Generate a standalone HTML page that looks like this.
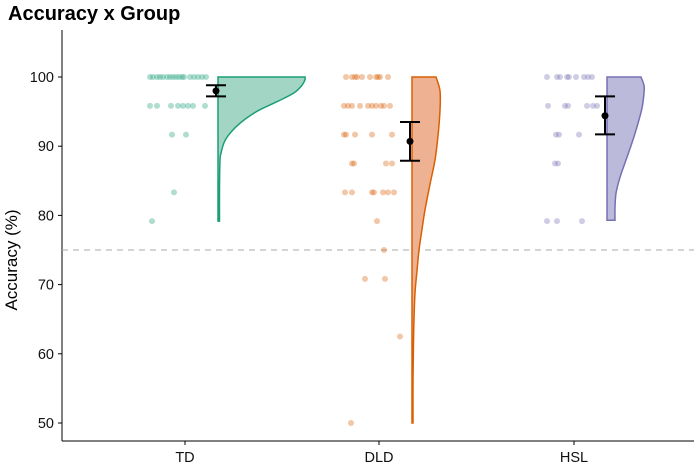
<!DOCTYPE html>
<html><head><meta charset="utf-8"><style>
body{margin:0;background:#fff;font-family:"Liberation Sans",Arial,sans-serif}
svg{display:block}
</style></head><body>
<svg id="chart" width="696" height="464">
<text x="8" y="20" font-size="20" font-weight="bold" fill="#000">Accuracy x Group</text>
<text transform="translate(17,260) rotate(-90)" text-anchor="middle" font-size="17" fill="#000">Accuracy (%)</text>
<g id="plot"></g>
</svg>
<script>
const groups=["TD","DLD","HSL"];
const colors=["#1b9e77","#d95f02","#7570b3"];
const fills=["#a3d5c4","#eeb293","#bcbadb"];
const yTicks=[50,60,70,80,90,100];
const means=[98.0,90.7,94.4];
const ciLow=[97.2,87.9,91.7];
const ciHigh=[98.8,93.5,97.2];
const threshold=75;
const tdPoints=[[100,150],[100,153],[100,157],[100,160],[100,163],[100,167],[100,170],[100,173],[100,176],[100,179],[100,182],[100,184],[100,190],[100,194],[100,198],[100,202],[100,206],
[95.83,150],[95.83,157],[95.83,171],[95.83,178],[95.83,183],[95.83,188],[95.83,193],[95.83,205],[91.67,172],[91.67,186],[83.33,174],[79.17,152]];
const dldPoints=[[100,346],[100,352],[100,355],[100,357],[100,362],[100,370],[100,376],[100,378],[100,380],[100,388],
[95.83,344],[95.83,348],[95.83,352],[95.83,360],[95.83,368],[95.83,372],[95.83,376],[95.83,381],[95.83,384],[95.83,390],
[91.67,344],[91.67,346],[91.67,355],[91.67,372],[91.67,392],[87.5,352],[87.5,354],[87.5,386],[87.5,392],
[83.33,345],[83.33,352],[83.33,372],[83.33,374],[83.33,383],[83.33,388],[83.33,394],[79.17,377],[75,384],[70.83,365],[70.83,385],[62.5,400],[50,351]];
const hslPoints=[[100,547],[100,557],[100,560],[100,567],[100,569],[100,576],[100,584],[100,588],[100,592],
[95.83,548],[95.83,565],[95.83,568],[95.83,587],[95.83,593],[95.83,597],[91.67,556],[91.67,559],[91.67,579],[87.5,555],[87.5,558],[79.17,547],[79.17,557],[79.17,582]];
const tdDensity=[[100,87],[99.6,87],[98.8,84],[97.7,76],[96.5,60],[95.2,41],[94,28],[92.8,18],[91.5,10],[90.5,6],[89,3],[88,2],[84,1.5],[79.17,1.5]];
const dldDensity=[[100,24],[98,28],[95.2,28],[91.5,26],[88,23],[84.5,18],[80.8,13],[78,10],[75,7],[72,5],[68.8,3],[65,2],[61.6,1.5],[56,1],[50,1]];
const hslDensity=[[100,34],[98.8,37],[97.7,37],[95.5,35],[92.8,30],[90.5,25],[88,19],[85.5,13],[83.2,9],[81,8],[79.3,8]];
const points=[tdPoints,dldPoints,hslPoints];
const densities=[tdDensity,dldDensity,hslDensity];
const groupX=[218,412,607];
const X0=62,X1=694,YB=441;
function y(v){return 77+(100-v)*6.92;}
const NS="http://www.w3.org/2000/svg";
const g=document.getElementById('plot');
function mk(t,a){const e=document.createElementNS(NS,t);for(const k in a)e.setAttribute(k,a[k]);g.appendChild(e);return e;}
let e=mk('line',{x1:X0,y1:30,x2:X0,y2:YB,stroke:'#000','stroke-width':1});


e=mk('line',{x1:X0,y1:YB,x2:X1,y2:YB,stroke:'#000','stroke-width':1});


yTicks.forEach(v=>{
 e=mk('line',{x1:X0-4,y1:y(v),x2:X0,y2:y(v),stroke:'#000'});
 
 
 e=mk('text',{x:X0-8,y:y(v)+5,'text-anchor':'end','font-size':14.5,fill:'#111'});
 e.textContent=v;
 
 
});
e=mk('line',{x1:X0,y1:y(threshold),x2:X1,y2:y(threshold),stroke:'#aaa','stroke-dasharray':'6,5'});


groups.forEach((name,i)=>{
 const cx=groupX[i];
 e=mk('line',{x1:cx-33,y1:YB,x2:cx-33,y2:YB+4,stroke:'#000'});
 
 
 e=mk('text',{x:cx-33,y:YB+21,'text-anchor':'middle','font-size':14.5,fill:'#111'});
 e.textContent=name;
 
 
 points[i].forEach(p=>{
  e=mk('circle',{cx:p[1],cy:y(p[0]),r:3,fill:colors[i],'fill-opacity':0.35});
  
  
 });
 const d=densities[i];
 const pts=d.map(q=>[cx+q[1],y(q[0])]);
 let path='M'+cx+','+pts[0][1]+' L'+pts[0][0]+','+pts[0][1];
 for(let k=0;k<pts.length-1;k++){
  const p0=pts[Math.max(k-1,0)],p1=pts[k],p2=pts[k+1],p3=pts[Math.min(k+2,pts.length-1)];
  const c1=[p1[0]+(p2[0]-p0[0])/6,p1[1]+(p2[1]-p0[1])/6];
  const c2=[p2[0]-(p3[0]-p1[0])/6,p2[1]-(p3[1]-p1[1])/6];
  path+=' C'+c1[0]+','+c1[1]+' '+c2[0]+','+c2[1]+' '+p2[0]+','+p2[1];
 }
 path+=' L'+cx+','+pts[pts.length-1][1]+' Z';
 e=mk('path',{d:path,fill:fills[i],stroke:colors[i],'stroke-width':1.5});
 
 
 const ex=cx-2;
 e=mk('line',{x1:ex,y1:y(ciLow[i]),x2:ex,y2:y(ciHigh[i]),stroke:'#000','stroke-width':2});
 
 
 [ciLow[i],ciHigh[i]].forEach(v=>{
  e=mk('line',{x1:ex-10,y1:y(v),x2:ex+10,y2:y(v),stroke:'#000','stroke-width':2});
  
  
 });
 e=mk('circle',{cx:ex,cy:y(means[i]),r:3.5,fill:'#000'});
 
 
});
</script>
</body></html>
